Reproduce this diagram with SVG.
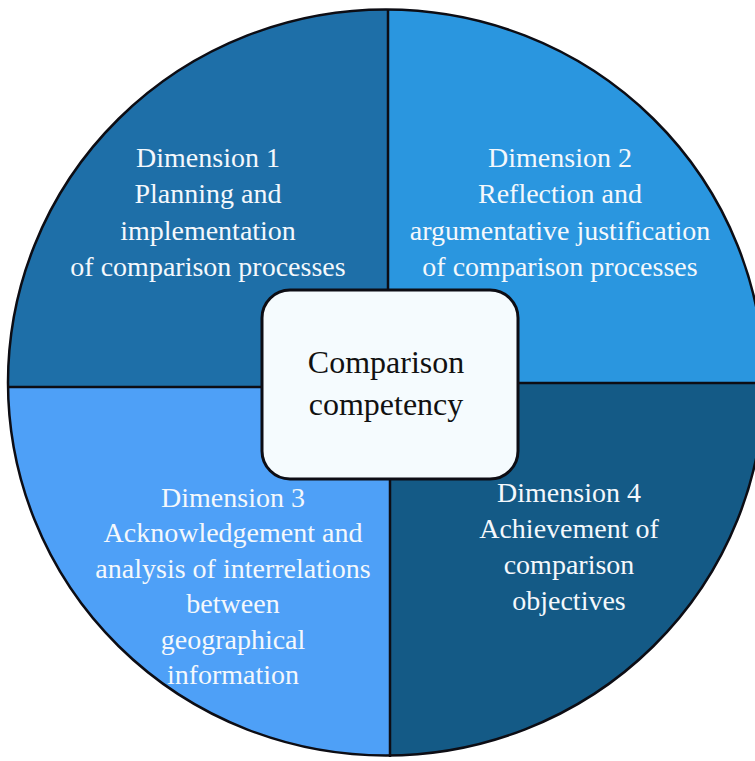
<svg xmlns="http://www.w3.org/2000/svg" width="755" height="761" viewBox="0 0 755 761">
  <style>
    .dim { font-family: "Liberation Serif", "Times New Roman", serif; font-size: 28px; fill: #f4f8fc; text-anchor: middle; }
    .core { font-family: "Liberation Serif", "Times New Roman", serif; font-size: 32px; fill: #111111; text-anchor: middle; }
    .divider { stroke: #0d0d14; stroke-width: 2.5; fill: none; }
  </style>
  <defs>
    <clipPath id="disc">
      <ellipse cx="386" cy="382.5" rx="378" ry="373"/>
    </clipPath>
  </defs>
  <rect width="755" height="761" fill="#ffffff"/>

  <!-- quadrant fills, clipped to the disc -->
  <g clip-path="url(#disc)">
    <g id="dimension-1-fill"><rect x="0" y="0" width="389" height="388" fill="#1e6fa8"/></g>
    <g id="dimension-2-fill"><rect x="388" y="0" width="367" height="384" fill="#2a96df"/></g>
    <g id="dimension-3-fill"><rect x="0" y="386" width="391" height="375" fill="#4ea0f7"/></g>
    <g id="dimension-4-fill"><rect x="389" y="382" width="366" height="379" fill="#145a86"/></g>
  </g>

  <!-- dividers and rim -->
  <g id="connectors">
    <line class="divider" x1="388" y1="10" x2="388" y2="292"/>
    <line class="divider" x1="390" y1="478" x2="390" y2="757"/>
    <line class="divider" x1="8" y1="387" x2="263" y2="387"/>
    <line class="divider" x1="517" y1="383" x2="755" y2="383"/>
    <ellipse class="divider" cx="386" cy="382.5" rx="378" ry="373"/>
  </g>

  <g id="dimension-1">
    <text class="dim" x="208" y="167">Dimension 1</text>
    <text class="dim" x="208" y="203">Planning and</text>
    <text class="dim" x="208" y="240">implementation</text>
    <text class="dim" x="208" y="276">of comparison processes</text>
  </g>

  <g id="dimension-2">
    <text class="dim" x="560" y="167">Dimension 2</text>
    <text class="dim" x="560" y="203">Reflection and</text>
    <text class="dim" x="560" y="240">argumentative justification</text>
    <text class="dim" x="560" y="276">of comparison processes</text>
  </g>

  <g id="dimension-3">
    <text class="dim" x="233" y="507">Dimension 3</text>
    <text class="dim" x="233" y="542">Acknowledgement and</text>
    <text class="dim" x="233" y="578">analysis of interrelations</text>
    <text class="dim" x="233" y="613">between</text>
    <text class="dim" x="233" y="649">geographical</text>
    <text class="dim" x="233" y="684">information</text>
  </g>

  <g id="dimension-4">
    <text class="dim" x="569" y="502">Dimension 4</text>
    <text class="dim" x="569" y="538">Achievement of</text>
    <text class="dim" x="569" y="574">comparison</text>
    <text class="dim" x="569" y="610">objectives</text>
  </g>

  <g id="comparison-competency">
    <rect x="262" y="290" width="256" height="189" rx="28" ry="28" fill="#f5fbfe" stroke="#0d0d14" stroke-width="3"/>
    <text class="core" x="386" y="373">Comparison</text>
    <text class="core" x="386" y="415">competency</text>
  </g>
</svg>
